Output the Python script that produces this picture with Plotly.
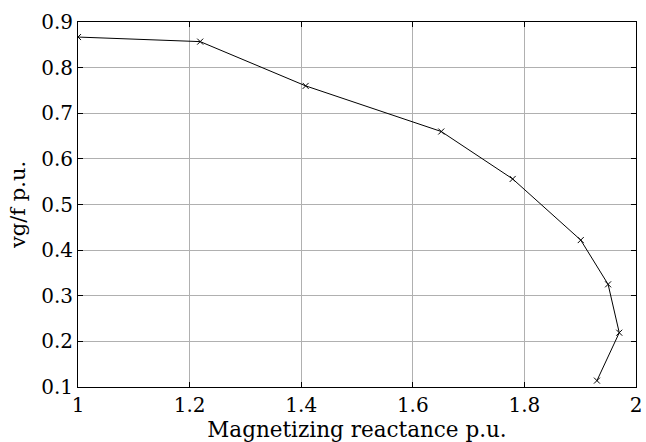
import plotly.graph_objects as go

reactance = [1.0, 1.219, 1.408, 1.651, 1.779, 1.901, 1.950, 1.970, 1.930]
vgf = [0.867, 0.857, 0.760, 0.660, 0.556, 0.422, 0.325, 0.219, 0.114]

x_ticks = [1, 1.2, 1.4, 1.6, 1.8, 2]
x_tick_text = ["1", "1.2", "1.4", "1.6", "1.8", "2"]
y_ticks = [0.1, 0.2, 0.3, 0.4, 0.5, 0.6, 0.7, 0.8, 0.9]
y_tick_text = ["0.1", "0.2", "0.3", "0.4", "0.5", "0.6", "0.7", "0.8", "0.9"]

FAMILY = "DejaVu Serif"


def f(size):
    return dict(family=FAMILY, size=size, color="black")


fig = go.Figure()
fig.add_trace(go.Scatter(
    x=reactance, y=vgf, mode="lines+markers",
    line=dict(color="black", width=1),
    marker=dict(symbol="x-thin", size=6, color="black", line=dict(color="black", width=1)),
    showlegend=False,
))

fig.update_layout(
    width=646, height=442,
    margin=dict(l=78, r=4, t=22, b=55),
    paper_bgcolor="white", plot_bgcolor="white",
    font=f(20),
    xaxis=dict(
        range=[1, 2], tickvals=x_ticks, ticktext=x_tick_text,
        showgrid=True, gridcolor="#b0b0b0", gridwidth=1,
        showline=True, linecolor="black", linewidth=1, mirror="ticks",
        ticks="inside", ticklen=5, tickcolor="black",
        zeroline=False, ticklabeloverflow="allow",
        title=dict(text="Magnetizing reactance p.u.", font=f(21.5), standoff=0),
        tickfont=f(20),
    ),
    yaxis=dict(
        range=[0.1, 0.9], tickvals=y_ticks, ticktext=y_tick_text,
        showgrid=True, gridcolor="#b0b0b0", gridwidth=1,
        showline=True, linecolor="black", linewidth=1, mirror="ticks",
        ticks="inside", ticklen=5, tickcolor="black",
        zeroline=False, ticklabeloverflow="allow",
        title=dict(text="vg/f p.u.", font=f(21), standoff=9),
        tickfont=f(20),
    ),
)

fig.write_html("out.html")
